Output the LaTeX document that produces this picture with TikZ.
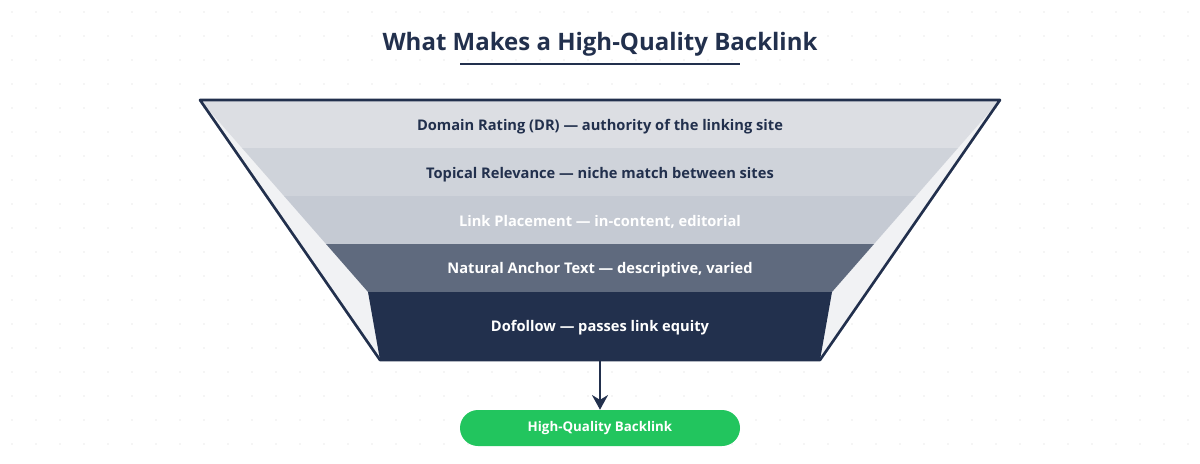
\documentclass[tikz,border=0pt]{standalone}
\usepackage{fontspec}
\setmainfont{Open Sans}
\usetikzlibrary{positioning,arrows.meta}
\definecolor{navy}{HTML}{22304D}
\definecolor{slate}{HTML}{5F6A7E}
\definecolor{bandA}{HTML}{DCDEE3}
\definecolor{bandB}{HTML}{CFD3DA}
\definecolor{bandC}{HTML}{C5CAD3}
\definecolor{wall}{HTML}{F1F2F4}
\definecolor{okgreen}{HTML}{22C55E}
\tikzset{
  band/.style = {font=\bfseries\fontsize{11}{13}\selectfont},
  pill/.style = {rounded corners=13.5pt, fill=okgreen, text=white,
                 minimum width=210pt, minimum height=27pt,
                 font=\bfseries\fontsize{10}{12}\selectfont}
}

\begin{document}
\begin{tikzpicture}[x=0.75pt, y=-0.75pt]
                    \useasboundingbox (0,0) rectangle (1200,464);
                    % dotted background
                    \foreach \i in {0,...,49}
                    \foreach \j in {0,...,19}
                    \fill[black!8] (12+24*\i,12+24*\j) circle (0.6pt);

                    \node [font=\bfseries\fontsize{18}{22}\selectfont, text=navy] (title) at (600,44) {What Makes a High-Quality Backlink};
                    \draw [navy, line width=1.5pt] (460,64) -- (740,64);

                    % funnel walls and bands
                    \fill [wall] (200,100) -- (1000,100) -- (820,360) -- (380,360) -- cycle;
                    \fill [bandA] (200,100) -- (1000,100) -- (958,148) -- (242,148) -- cycle;
                    \fill [bandB] (242,148) -- (958,148) -- (916,196) -- (284,196) -- cycle;
                    \fill [bandC] (284,196) -- (916,196) -- (874,244) -- (326,244) -- cycle;
                    \fill [slate] (326,244) -- (874,244) -- (832,292) -- (368,292) -- cycle;
                    \fill [navy] (368,292) -- (832,292) -- (820,360) -- (380,360) -- cycle;
                    \draw [navy, line width=2pt, line join=round] (200,100) -- (1000,100) -- (820,360) -- (380,360) -- cycle;

                    \node [band, text=navy] (dr) at (600,127) {Domain Rating (DR) — authority of the linking site};
                    \node [band, text=navy] (topic) at (600,175) {Topical Relevance — niche match between sites};
                    \node [band, text=white] (place) at (600,222) {Link Placement — in-content, editorial};
                    \node [band, text=white] (anchor) at (600,270) {Natural Anchor Text — descriptive, varied};
                    \node [band, text=white] (follow) at (600,328) {Dofollow — passes link equity};

                    \coordinate (spout) at (600,361);
                    \node [pill] (result) at (600,428) {High-Quality Backlink};
                    \draw [navy, line width=2pt, -{Stealth[length=11pt,width=12pt]}] (spout) -- (result.north);
                \end{tikzpicture}
\end{document}
